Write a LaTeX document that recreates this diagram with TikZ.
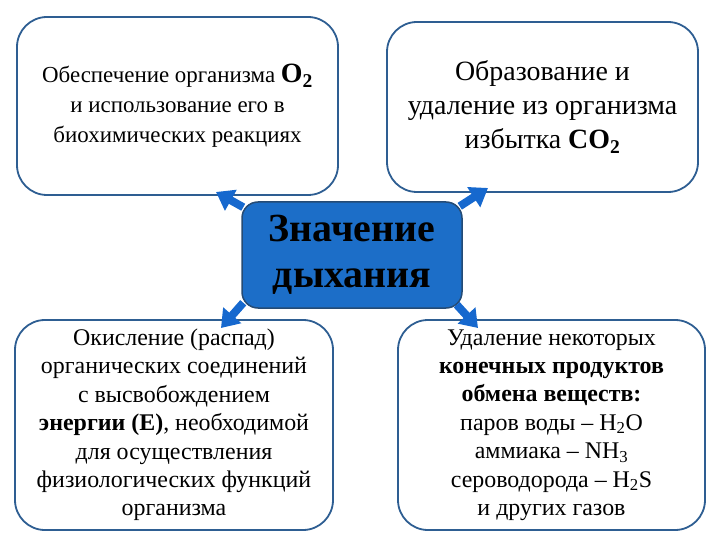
\documentclass[tikz,border=0pt]{standalone}
\usepackage{fontspec}
\setmainfont{Liberation Serif}
\usetikzlibrary{arrows.meta}
\definecolor{rambl}{RGB}{46,94,146}
\definecolor{centrbl}{RGB}{28,110,200}
\definecolor{strbl}{RGB}{22,104,206}

\begin{document}
\begin{tikzpicture}[x=1bp, y=-1bp,
  box/.style = {draw=rambl, line width=1.8bp, rounded corners=30bp, fill=white, align=center, inner sep=0pt},
  centr/.style = {draw=rambl!80!black, line width=1.5bp, rounded corners=16bp, fill=centrbl, align=center, inner sep=0pt,
    minimum width=220bp, minimum height=106bp, font=\fontsize{40}{46}\selectfont\bfseries},
  strel/.style = {draw=strbl, line width=8bp, -{Triangle[length=17bp, width=23bp]}}]
  \useasboundingbox (0,0) rectangle (720,540);
  \node[box, minimum width=321bp, minimum height=178bp, font=\fontsize{23}{30}\selectfont] (1) at (177.5,106)
    {Обеспечение организма \textbf{\fontsize{28}{30}\selectfont O\textsubscript{2}}\\ и использование его в\\ биохимических реакциях};
  \node[box, minimum width=311bp, minimum height=170bp, font=\fontsize{28}{34}\selectfont] (2) at (542.5,107)
    {Образование и\\ удаление из организма\\ избытка \textbf{CO\textsubscript{2}}};
  \node[box, minimum width=318bp, minimum height=210bp, font=\fontsize{24}{28.5}\selectfont] (3) at (174,425)
    {Окисление (распад)\\ органических соединений\\ с высвобождением\\ \textbf{энергии (Е)}, необходимой\\ для осуществления\\ физиологических функций\\ организма};
  \node[box, minimum width=307bp, minimum height=210bp, font=\fontsize{24}{28.5}\selectfont] (4) at (551.5,425)
    {Удаление некоторых\\ \textbf{конечных продуктов}\\ \textbf{обмена веществ:}\\ паров воды -- H\textsubscript{2}O\\ аммиака -- NH\textsubscript{3}\\ сероводорода -- H\textsubscript{2}S\\ и других газов};
  \node[centr] (0) at (352,255) {Значение\\ дыхания};
  \coordinate (t1) at (216,192);
  \coordinate (t2) at (488,188);
  \coordinate (t3) at (221,328);
  \coordinate (t4) at (478,328);
  \draw[strel] (0.north west) ++(2,6) -- (t1);
  \draw[strel] (0.north east) ++(-3,5) -- (t2);
  \draw[strel] (0.south west) ++(2,-6) -- (t3);
  \draw[strel] (0.south east) ++(-6,-4) -- (t4);
\end{tikzpicture}
\end{document}
